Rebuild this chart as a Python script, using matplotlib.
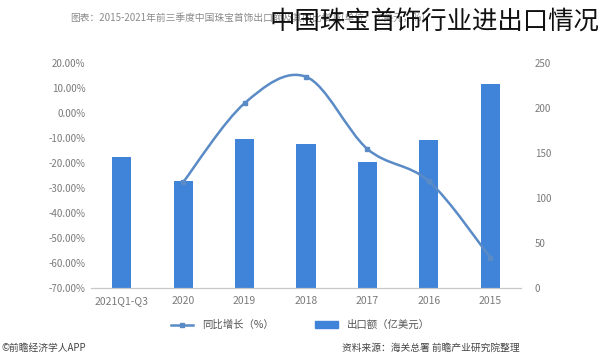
import matplotlib.pyplot as plt
from matplotlib.path import Path
from matplotlib.patches import PathPatch
from matplotlib.lines import Line2D
from matplotlib.patches import Patch

plt.rcParams["font.family"] = ["Noto Sans CJK SC", "DejaVu Sans"]

# layout follows the reference (mirrored order: latest period on the left)
categories = ["2021Q1-Q3", "2020", "2019", "2018", "2017", "2016", "2015"]
export_value = [146, 119, 166, 160, 140, 164, 227]  # 亿美元
growth_pct = [None, -27.7, 3.9, 14.5, -14.4, -27.3, -57.8]  # %

pct_ticks = [20, 10, 0, -10, -20, -30, -40, -50, -60, -70]
val_ticks = [0, 50, 100, 150, 200, 250]

bar_color = "#3f84d8"
line_color = "#5a8bc6"
tick_color = "#7a7a7a"


def smooth_path(xs, ys):
    """Catmull-Rom style bezier path through the given points."""
    pts = list(zip(xs, ys))
    verts = [pts[0]]
    codes = [Path.MOVETO]
    t = 0.5
    for i in range(len(pts) - 1):
        p0 = pts[i - 1] if i > 0 else pts[i]
        p1, p2 = pts[i], pts[i + 1]
        p3 = pts[i + 2] if i + 2 < len(pts) else pts[i + 1]
        c1 = (p1[0] + (p2[0] - p0[0]) * t / 3, p1[1] + (p2[1] - p0[1]) * t / 3)
        c2 = (p2[0] - (p3[0] - p1[0]) * t / 3, p2[1] - (p3[1] - p1[1]) * t / 3)
        verts += [c1, c2, p2]
        codes += [Path.CURVE4] * 3
    return Path(verts, codes)


fig = plt.figure(figsize=(6.0, 3.64), dpi=100)
ax = fig.add_axes([91 / 600, 1 - 288 / 364, 430 / 600, 225 / 364])
ax2 = ax.twinx()
ax.set_zorder(ax2.zorder + 1)
ax.patch.set_visible(False)

x = list(range(len(categories)))
ax2.bar(x, export_value, width=0.31, color=bar_color, zorder=2)
ax2.set_ylim(0, 250)
ax2.set_yticks(val_ticks)
ax2.set_yticklabels([str(v) for v in val_ticks])

lx = [i for i, g in zip(x, growth_pct) if g is not None]
ly = [g for g in growth_pct if g is not None]
ax.add_patch(PathPatch(smooth_path(lx, ly), facecolor="none",
                       edgecolor=line_color, lw=1.8, zorder=3))
ax.plot(lx, ly, linestyle="none", marker="s", markersize=3.5,
        color=line_color, zorder=4)
ax.set_ylim(-70, 20)
ax.set_xlim(-0.5, len(categories) - 0.5)
ax.set_yticks(pct_ticks)
ax.set_yticklabels([f"{v:.2f}%" for v in pct_ticks])
ax.set_xticks(x)
ax.set_xticklabels(categories)

for a in (ax, ax2):
    for s in ("top", "left", "right"):
        a.spines[s].set_visible(False)
    a.spines["bottom"].set_color("#c8c8c8")
    a.tick_params(length=0, labelsize=7, colors=tick_color)
ax.tick_params(axis="y", pad=4)
ax2.tick_params(axis="y", pad=10)
ax.tick_params(axis="x", pad=6, labelsize=7.5)

handles = [
    Line2D([0], [0], color=line_color, lw=1.8, marker="s", markersize=3.5),
    Patch(color=bar_color),
]
fig.legend(handles, ["同比增长（%）", "出口额（亿美元）"], loc="center",
           bbox_to_anchor=(0.5, 1 - 325 / 364), ncol=2, frameon=False,
           fontsize=7.5, labelcolor="#555555", handlelength=2.2,
           handleheight=0.6, columnspacing=4)

fig.text(70 / 600, 1 - 18 / 364,
         "图表：2015-2021年前三季度中国珠宝首饰出口额及其同比增减(单位：亿美元，%)",
         fontsize=7, color="#8a8a8a", va="center", ha="left")
fig.text(270 / 600, 1 - 22 / 364, "中国珠宝首饰行业进出口情况",
         fontsize=18.3, color="#111111", va="center", ha="left", fontweight="light")

fig.text(2 / 600, 1 - 348 / 364, "©前瞻经济学人APP", fontsize=7,
         color="#444444", va="center", ha="left")
fig.text(520 / 600, 1 - 348 / 364, "资料来源：海关总署 前瞻产业研究院整理",
         fontsize=7, color="#444444", va="center", ha="right")

fig.savefig("out.png", dpi=100)
